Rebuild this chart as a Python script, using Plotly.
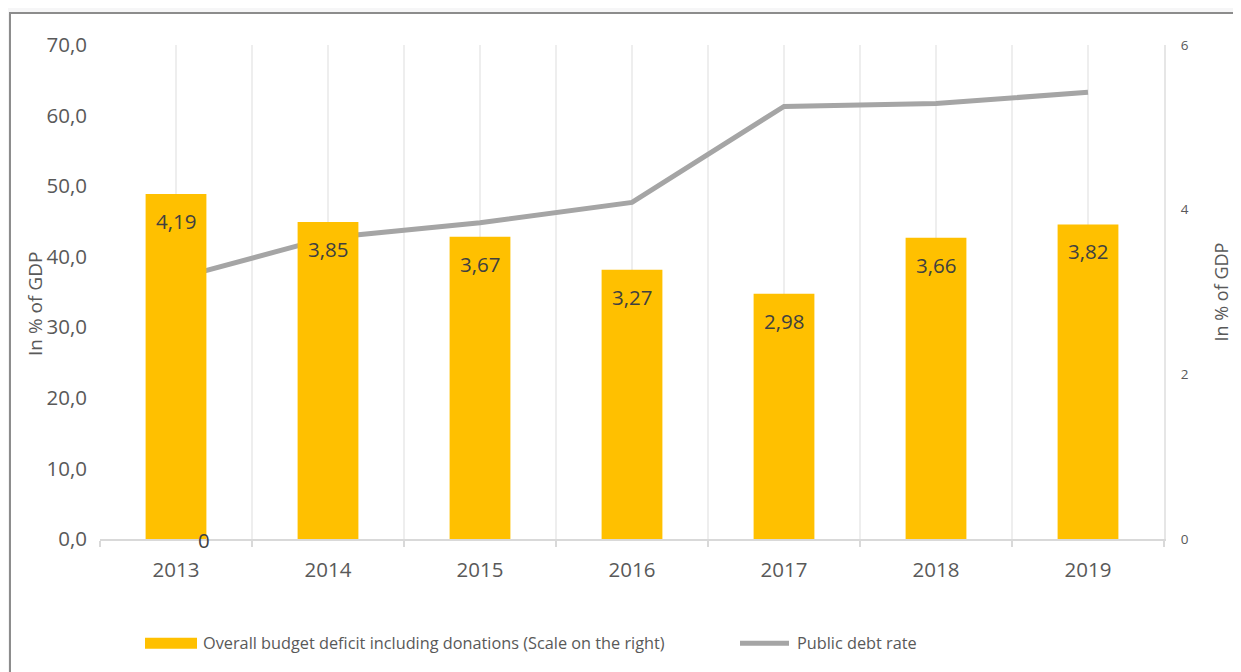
import plotly.graph_objects as go

years = ["2013", "2014", "2015", "2016", "2017", "2018", "2019"]
deficit = [4.19, 3.85, 3.67, 3.27, 2.98, 3.66, 3.82]
debt = [36.9, 42.7, 44.8, 47.7, 61.3, 61.7, 63.3]
left_ticks = [0, 10, 20, 30, 40, 50, 60, 70]
right_ticks = [0, 2, 4, 6]
bar_name = "Overall budget deficit including donations (Scale on the right)"
line_name = "Public debt rate"
axis_title = "In % of GDP"

BAR_COLOR = "#FFC000"
LINE_COLOR = "#A5A5A5"
TXT = "#595959"

xs = list(range(len(years)))

fig = go.Figure()
fig.add_trace(go.Bar(
    x=xs, y=deficit, yaxis="y2", width=0.4,
    marker=dict(color=BAR_COLOR, line=dict(width=0)),
    name=bar_name, showlegend=False,
))
fig.add_trace(go.Scatter(
    x=xs, y=debt, mode="lines", name=line_name, showlegend=False,
    line=dict(color=LINE_COLOR, width=5),
))

fig.update_layout(
    width=1241, height=672,
    separators=", ",
    paper_bgcolor="#F6F6F7",
    plot_bgcolor="white",
    margin=dict(l=92, r=85, t=37, b=141),
    font=dict(family="Open Sans", color=TXT),
    showlegend=False,
    xaxis=dict(
        range=[-0.5, len(years) - 0.5],
        tickvals=xs, ticktext=years, ticks="",
        tickfont=dict(size=20.5, color=TXT), ticklabelstandoff=11,
        showgrid=True, gridcolor="#EEEEEE", gridwidth=2,
        showline=True, linecolor="#D9D9D9", linewidth=2,
        minor=dict(tick0=-0.5, dtick=1, showgrid=True, gridcolor="#EEEEEE", gridwidth=2,
                   ticks="outside", ticklen=6, tickcolor="#D9D9D9", tickwidth=2),
        zeroline=False,
    ),
    yaxis=dict(
        range=[0, 70], tickvals=left_ticks, tickformat=".1f",
        tickfont=dict(size=20.5, color=TXT),
        showgrid=False, zeroline=False, ticks="", ticklabelstandoff=12,
    ),
    yaxis2=dict(
        range=[0, 6], tickvals=right_ticks, overlaying="y", side="right",
        tickfont=dict(size=13.5, color=TXT),
        showgrid=False, zeroline=False, ticks="", ticklabelstandoff=12,
        showline=True, linecolor="#E6E6E6", linewidth=2,
        title=dict(text=axis_title, font=dict(size=18, color=TXT), standoff=28),
    ),
)

# outer chart border (white chart area)
fig.add_shape(type="rect", xref="paper", yref="paper",
              x0=-0.0846, x1=1.2, y0=-0.8, y1=1.0648,
              line=dict(color="#8C8C8C", width=2), fillcolor="white", layer="below")

# left axis title overlapping tick labels
fig.add_annotation(xref="paper", yref="paper", x=-0.061, y=0.476, text=axis_title,
                   textangle=-90, showarrow=False, xanchor="center", yanchor="middle",
                   font=dict(size=19, color=TXT))

# bar value labels
for xi, d in zip(xs, deficit):
    fig.add_annotation(x=xi, y=d, yref="y2", text=f"{d:.2f}".replace(".", ","),
                       showarrow=False, yanchor="middle", yshift=-27,
                       font=dict(size=20.5, color="#404040"))

fig.add_annotation(x=xs[0], y=0, yref="y", text="0", showarrow=False,
                   xshift=28, yshift=-1, font=dict(size=20.5, color="#404040"))

# manual legend
leg_y = -0.211
fig.add_shape(type="rect", xref="paper", yref="paper",
              x0=(145 - 100) / 1064, x1=(197 - 100) / 1064,
              y0=leg_y - 0.011, y1=leg_y + 0.011,
              fillcolor=BAR_COLOR, line=dict(width=0))
fig.add_annotation(xref="paper", yref="paper", x=(201 - 100) / 1064, y=leg_y,
                   text=bar_name, showarrow=False, xanchor="left", yanchor="middle",
                   font=dict(size=16.3, color=TXT))
fig.add_shape(type="line", xref="paper", yref="paper",
              x0=(740 - 100) / 1064, x1=(789 - 100) / 1064, y0=leg_y, y1=leg_y,
              line=dict(color=LINE_COLOR, width=5))
fig.add_annotation(xref="paper", yref="paper", x=(795 - 100) / 1064, y=leg_y,
                   text=line_name, showarrow=False, xanchor="left", yanchor="middle",
                   font=dict(size=16.3, color=TXT))

fig.write_html("out.html")
